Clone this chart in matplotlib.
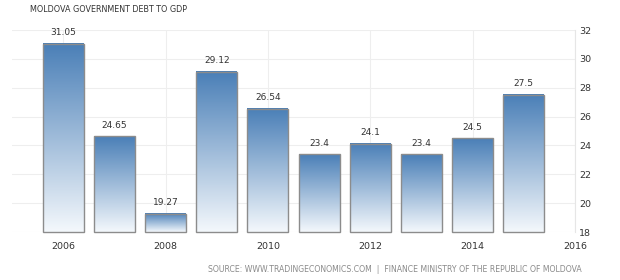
import numpy as np
import matplotlib
matplotlib.use("Agg")
import matplotlib.pyplot as plt
from matplotlib.colors import LinearSegmentedColormap

years = [2006, 2007, 2008, 2009, 2010, 2011, 2012, 2013, 2014, 2015]
debt = [31.05, 24.65, 19.27, 29.12, 26.54, 23.4, 24.1, 23.4, 24.5, 27.5]
labels = ['31.05', '24.65', '19.27', '29.12', '26.54', '23.4', '24.1', '23.4', '24.5', '27.5']

base = 18
fig = plt.figure(figsize=(6.2, 2.8), dpi=100)
ax = fig.add_axes([12/620, 1 - 232/280, (575 - 12)/620, (232 - 30)/280])

cmap = LinearSegmentedColormap.from_list('tegrad', ['#f4f8fc', '#4a7fb7'])
grad = np.linspace(0, 1, 256).reshape(-1, 1)
w = 0.8
for yr, v, lab in zip(years, debt, labels):
    ax.imshow(grad, cmap=cmap, aspect='auto', origin='lower',
              extent=(yr - w/2, yr + w/2, base, v), zorder=2)
    ax.add_patch(plt.Rectangle((yr - w/2, base), w, v - base, fill=False,
                               edgecolor='#8c8c8c', lw=1.0, zorder=3, clip_on=False))
    ax.text(yr, v + 0.45, lab, ha='center', va='bottom', fontsize=6.5,
            color='#333333', clip_on=False)
ax.set_xlim(2005, 2016)
ax.set_ylim(base, 32)

ax.set_xticks(range(2006, 2017, 2))
ax.set_yticks(range(18, 33, 2))
ax.yaxis.tick_right()
ax.tick_params(length=0, labelsize=6.8, colors='#333333')
ax.tick_params(axis='x', pad=7)
ax.tick_params(axis='y', pad=3)
ax.grid(True, color='#eeeeee', lw=0.8, zorder=0)
ax.set_axisbelow(True)
for s in ['top', 'left', 'bottom']:
    ax.spines[s].set_visible(False)
ax.spines['right'].set_color('#e6e6e6')

fig.text(30/620, 1 - 9/280, 'MOLDOVA GOVERNMENT DEBT TO GDP', fontsize=5.8,
         color='#333333', va='center', ha='left')
fig.text(582/620, 1 - 270/280,
         'SOURCE: WWW.TRADINGECONOMICS.COM  |  FINANCE MINISTRY OF THE REPUBLIC OF MOLDOVA',
         fontsize=5.6, color='#8a8a8a', va='center', ha='right')

fig.savefig('out.png', dpi=100, facecolor='white')
